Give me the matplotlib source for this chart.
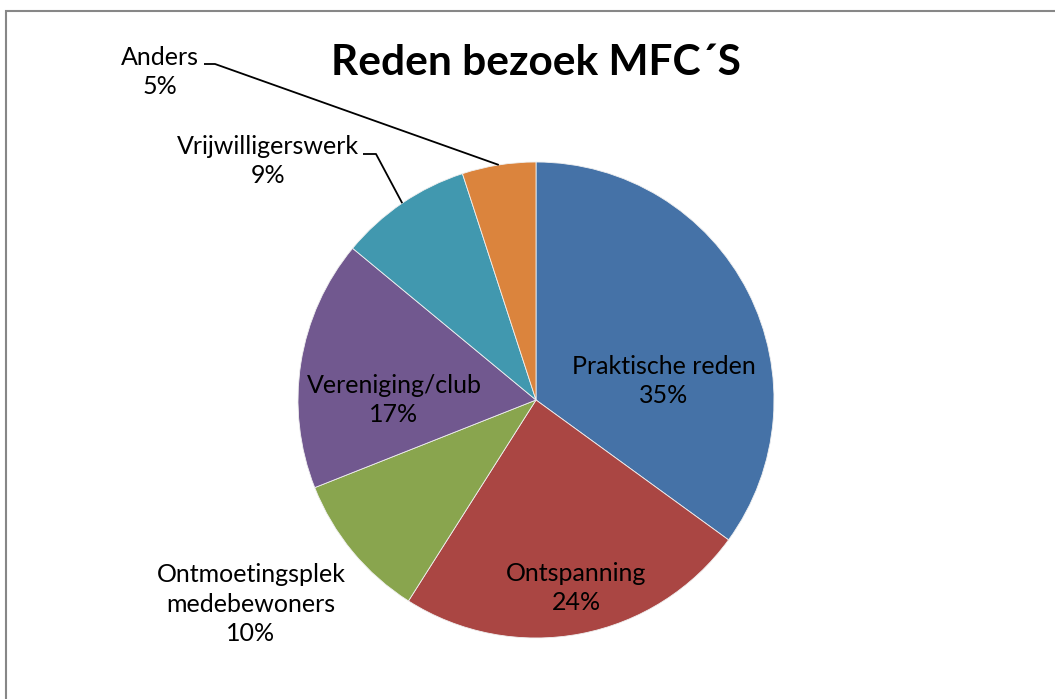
import numpy as np
import matplotlib
matplotlib.use('Agg')
from matplotlib import pyplot as plt
from matplotlib.patches import Rectangle

categories = ['Praktische reden', 'Ontspanning', 'Ontmoetingsplek\nmedebewoners',
              'Vereniging/club', 'Vrijwilligerswerk', 'Anders']
values = [35, 24, 10, 17, 9, 5]
colors = ['#4572A7', '#AA4643', '#89A54E', '#71588F', '#4198AF', '#DB843D']

W, H = 1055, 699
cx, cy, R = 536, 400, 238  # pie centre and radius in pixels


def px(x, y):
    # pixel position -> data units (radius = 1)
    return (x - cx) / R, (cy - y) / R


# label centres (pixels) and optional leader elbow (pixels)
label_pos = [(664, 381), (576, 588), (251, 604), (394, 400), (268, 161), (160, 72)]
leaders = {4: (363, 376, 154), 5: (204, 215, 64)}

plt.rcParams['font.family'] = ['Lato', 'DejaVu Sans']

fig = plt.figure(figsize=(W / 100, H / 100), dpi=100)
ax = fig.add_axes([0, 0, 1, 1])

wedges, _ = ax.pie(values, startangle=90, counterclock=False, colors=colors,
                   radius=1, center=(0, 0),
                   wedgeprops=dict(edgecolor='#f0f0f0', linewidth=0.6))
ax.set_aspect('auto')
ax.set_xlim(-cx / R, (W - cx) / R)
ax.set_ylim(-(H - cy) / R, cy / R)
ax.axis('off')

total = sum(values)
for i, (cat, v) in enumerate(zip(categories, values)):
    x, y = px(*label_pos[i])
    ax.text(x, y, '{}\n{}%'.format(cat, round(100 * v / total)), ha='center', va='center',
            fontsize=18, color='black', linespacing=1.32)

for i, (x0, x1, yl) in leaders.items():
    w = wedges[i]
    mid = np.radians((w.theta1 + w.theta2) / 2)
    ex, ey = np.cos(mid), np.sin(mid)
    a = px(x0, yl)
    b = px(x1, yl)
    ax.plot([a[0], b[0], ex], [a[1], b[1], ey], color='black', lw=1.3,
            solid_capstyle='butt')

fig.text(536 / W, 1 - 63 / H, 'Reden bezoek MFC\u00b4S', ha='center', va='center',
         fontsize=30.5, fontweight='bold')

fig.patches.append(Rectangle((6 / W, -0.1), 1.2, 1 - 11 / H + 0.1, transform=fig.transFigure,
                             fill=False, edgecolor='#878787', linewidth=1.5))

fig.savefig('out.png', dpi=100)
